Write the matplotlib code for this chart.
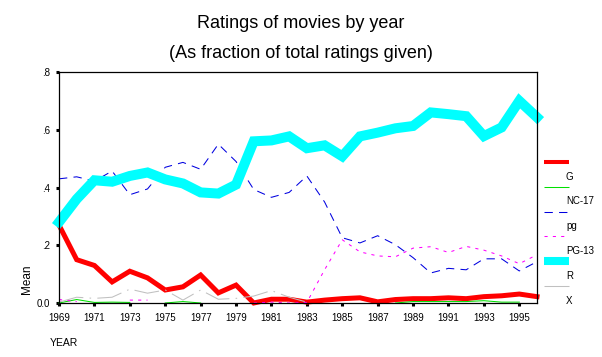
import numpy as np
import matplotlib
matplotlib.use('Agg')
import matplotlib.pyplot as plt
from matplotlib.lines import Line2D

plt.rcParams['font.family'] = ['Liberation Sans', 'DejaVu Sans']

nan = np.nan
years = np.arange(1969, 1997)

g_vals = [0.27, 0.15, 0.13, 0.073, 0.11, 0.087, 0.045, 0.056, 0.097, 0.035,
          0.062, 0.0, 0.013, 0.013, 0.003, 0.01, 0.015, 0.018, 0.004, 0.012,
          0.015, 0.015, 0.018, 0.015, 0.022, 0.025, 0.031, 0.022]
nc17_vals = [0.0, 0.012, 0.002, 0.003, 0.002, nan, 0.0, 0.005, 0.0, nan,
             nan, nan, nan, nan, nan, nan, nan, nan, nan, 0.0,
             0.005, 0.005, 0.005, 0.005, 0.008, 0.003, 0.003, nan]
pg_vals = [0.43, 0.437, 0.422, 0.457, 0.375, 0.395, 0.47, 0.487, 0.463, 0.55,
           0.49, 0.393, 0.366, 0.383, 0.44, 0.35, 0.226, 0.208, 0.233, 0.202,
           0.157, 0.104, 0.12, 0.115, 0.153, 0.153, 0.111, 0.143]
pg13_vals = [0.012, 0.005, nan, nan, 0.01, 0.01, nan, nan, nan, nan,
             nan, 0.0, 0.003, 0.0, 0.002, 0.115, 0.219, 0.177, 0.163, 0.16,
             0.19, 0.195, 0.175, 0.196, 0.183, 0.163, 0.136, 0.167]
r_vals = [0.28, 0.36, 0.425, 0.42, 0.44, 0.452, 0.428, 0.414, 0.383, 0.379,
          0.41, 0.56, 0.563, 0.577, 0.536, 0.546, 0.508, 0.577, 0.59, 0.605,
          0.613, 0.66, 0.654, 0.647, 0.578, 0.608, 0.70, 0.643]
x_vals = [0.003, 0.02, 0.016, 0.02, 0.048, 0.034, 0.045, 0.01, 0.045, 0.013,
          0.016, 0.024, 0.043, 0.02, 0.003, nan, nan, nan, nan, nan,
          nan, nan, nan, nan, nan, nan, nan, nan]

labels = ['G', 'NC-17', 'pg', 'PG-13', 'R', 'X']
series = [g_vals, nc17_vals, pg_vals, pg13_vals, r_vals, x_vals]
# colour, plot width (pt), legend width (pt), linestyle
styles = [
    ('#ff0000', 3.6, 2.9, '-'),
    ('#00e000', 0.75, 0.75, '-'),
    ('#0000e0', 0.75, 0.75, (0, (8, 6))),
    ('#ff00ff', 0.75, 0.75, (0, (3, 5))),
    ('#00ffff', 7.2, 5.8, '-'),
    ('#c0c0c0', 0.75, 0.75, (0, (24, 6, 1.5, 6))),
]

fig = plt.figure(figsize=(6.02, 3.57), dpi=100)
ax = fig.add_axes([59 / 602, 1 - 303 / 357, 478 / 602, 231 / 357])

for vals, (color, lw, _, ls) in zip(series, styles):
    ax.plot(years, vals, color=color, lw=lw, ls=ls, clip_on=False,
            solid_joinstyle='miter')

ax.set_xlim(1969, 1996)
ax.set_ylim(0, 0.8)
ax.set_xticks(np.arange(1969, 1996, 2))
ax.set_yticks([0, 0.2, 0.4, 0.6, 0.8])
ax.set_yticklabels(['0.0', '.2', '.4', '.6', '.8'])
ax.tick_params(axis='both', direction='out', length=2.5, width=2.2,
               labelsize=7, color='black')
ax.tick_params(axis='x', pad=5)
ax.tick_params(axis='y', pad=4)
for sp in ax.spines.values():
    sp.set_linewidth(0.9)

fig.text(0.5, 1 - 24 / 357, 'Ratings of movies by year', ha='center',
         va='center', fontsize=13)
fig.text(0.5, 1 - 54 / 357, '(As fraction of total ratings given)',
         ha='center', va='center', fontsize=13)
fig.text(27 / 602, 1 - 279 / 357, 'Mean', rotation=90, ha='center',
         va='center', fontsize=8.5)
fig.text(50 / 602, 1 - 343 / 357, 'YEAR', ha='left', va='center',
         fontsize=7.5)

# legend: sample line above its label
for i, (lab, (color, _, lw_leg, ls)) in enumerate(zip(labels, styles)):
    y_line = 162 + i * 24.8
    y_text = 176.5 + i * 24.8
    fig.add_artist(Line2D([544 / 602, 569 / 602],
                          [1 - y_line / 357, 1 - y_line / 357],
                          transform=fig.transFigure, color=color,
                          lw=lw_leg, ls=ls, solid_capstyle='butt'))
    fig.text(566 / 602, 1 - y_text / 357, lab, ha='left', va='center',
             fontsize=7)

fig.savefig('out.png', dpi=100)
